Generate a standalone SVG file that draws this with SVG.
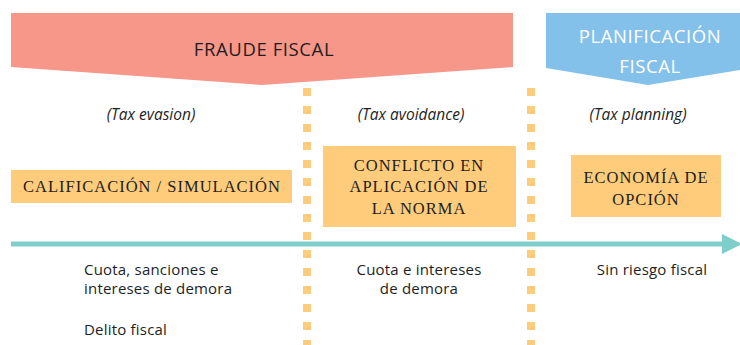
<svg xmlns="http://www.w3.org/2000/svg" width="740" height="345" viewBox="0 0 740 345">
<style>
.box{fill:#FECC7A}
.bt{font-family:"Liberation Serif","DejaVu Serif",serif;font-size:16.5px;fill:#1e1e1e;text-anchor:middle;letter-spacing:1px}
.it{font-family:"Open Sans","Noto Sans",sans-serif;font-style:italic;font-size:15.5px;fill:#1e1e1e;text-anchor:middle}
.lt{font-family:"Open Sans","Noto Sans",sans-serif;font-size:15px;fill:#1e1e1e;letter-spacing:0.2px}
.dots{stroke:#FECC7A;stroke-width:8;stroke-dasharray:8 10;fill:none}
.hd{font-family:"Open Sans","Noto Sans",sans-serif;font-size:18.5px;text-anchor:middle;letter-spacing:0.6px}
</style>
<defs>
<marker id="ah" markerWidth="4" markerHeight="4" refX="2" refY="2" orient="auto" markerUnits="strokeWidth">
<path d="M0,0 L4,2 L0,4 Z" fill="#7ECFCB"/>
</marker>
</defs>
<g id="fraude">
<polygon points="11,13 513,13 513,67 262,85 11,67" fill="#F6978A"/>
<text class="hd" x="264" y="56" fill="#1e1e1e">FRAUDE FISCAL</text>
</g>
<g id="planificacion">
<polygon points="546,13 740,13 740,70 648,85 546,68" fill="#84C1EA"/>
<text class="hd" x="650" y="43" fill="#fff">PLANIFICACIÓN</text>
<text class="hd" x="650" y="73" fill="#fff">FISCAL</text>
</g>
<g id="separators">
<line class="dots" x1="307" y1="88" x2="307" y2="345"/>
<line class="dots" x1="531" y1="88" x2="531" y2="345"/>
</g>
<g id="connectors">
<line x1="11" y1="244" x2="732" y2="244" stroke="#7ECFCB" stroke-width="5" marker-end="url(#ah)"/>
</g>
<g id="labels">
<text class="it" x="151" y="120">(Tax evasion)</text>
<text class="it" x="411" y="120">(Tax avoidance)</text>
<text class="it" x="638" y="120">(Tax planning)</text>
</g>
<g id="calificacion">
<rect class="box" x="11" y="170" width="281" height="33"/>
<text class="bt" x="152" y="192">CALIFICACIÓN / SIMULACIÓN</text>
</g>
<g id="conflicto">
<rect class="box" x="323" y="146" width="193" height="81"/>
<text class="bt" x="419" y="171">CONFLICTO EN</text>
<text class="bt" x="419" y="192">APLICACIÓN DE</text>
<text class="bt" x="419" y="214">LA NORMA</text>
</g>
<g id="economia">
<rect class="box" x="571" y="155" width="150" height="62"/>
<text class="bt" x="646" y="183">ECONOMÍA DE</text>
<text class="bt" x="646" y="205">OPCIÓN</text>
</g>
<g id="consecuencias">
<text class="lt" x="84" y="275">Cuota, sanciones e</text>
<text class="lt" x="84" y="294">intereses de demora</text>
<text class="lt" x="84" y="335">Delito fiscal</text>
<text class="lt" x="419" y="275" text-anchor="middle">Cuota e intereses</text>
<text class="lt" x="419" y="294" text-anchor="middle">de demora</text>
<text class="lt" x="652" y="275" text-anchor="middle">Sin riesgo fiscal</text>
</g>
</svg>
